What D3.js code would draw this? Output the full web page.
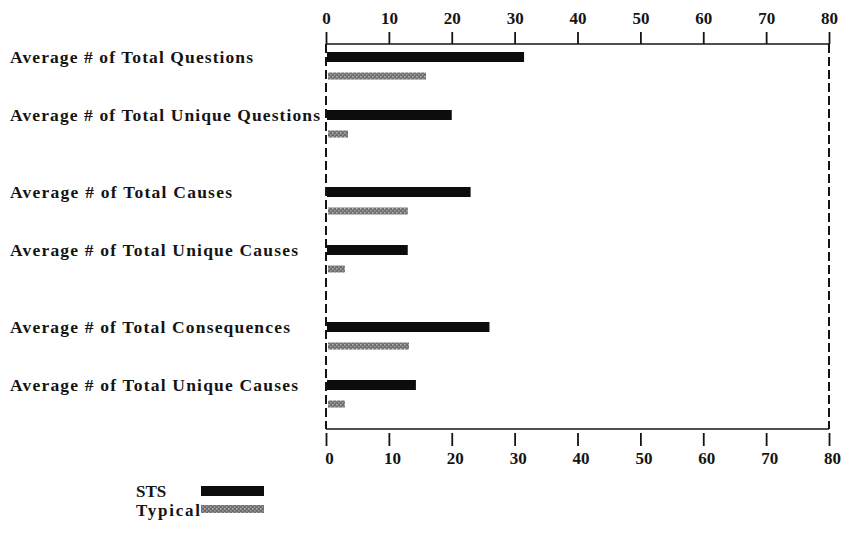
<!DOCTYPE html>
<html>
<head>
<meta charset="utf-8">
<script src="https://cdn.jsdelivr.net/npm/d3@7"></script>
<style>
html,body{margin:0;padding:0;background:#fff;}
svg{display:block;}
text{font-family:"Liberation Serif","Times New Roman",serif;font-weight:bold;fill:#141414;}
</style>
</head>
<body>
<svg id="chart" width="850" height="546"></svg>
<script>
const categories = [
  "Average # of Total Questions",
  "Average # of Total Unique Questions",
  "Average # of Total Causes",
  "Average # of Total Unique Causes",
  "Average # of Total Consequences",
  "Average # of Total Unique Causes"
];
const pairIndex = [0, 0, 1, 1, 2, 2];
const stsValues = [31.5, 20, 23, 13, 26, 14.3];
const typicalValues = [15.9, 3.5, 13, 3, 13.2, 3];
const seriesNames = ["STS", "Typical"];
const tickValues = [0, 10, 20, 30, 40, 50, 60, 70, 80];
const labelWidths = [243, 310, 222, 288, 280, 288];

const svg = d3.select("#chart");
const defs = svg.append("defs");
const pat = defs.append("pattern").attr("id", "hatch").attr("patternUnits", "userSpaceOnUse")
  .attr("width", 4).attr("height", 4);
pat.append("rect").attr("width", 4).attr("height", 4).attr("fill", "#6e6e6e");
pat.append("rect").attr("x", 0).attr("y", 0).attr("width", 1.5).attr("height", 1.5).attr("fill", "#b8b8b8");
pat.append("rect").attr("x", 2).attr("y", 2).attr("width", 1.5).attr("height", 1.5).attr("fill", "#a0a0a0");

const x = d3.scaleLinear().domain([0, 80]).range([326, 829]);
const yPair = d3.scalePoint().domain([0, 1, 2]).range([57, 327]);
const yInner = d3.scalePoint().domain([0, 1]).range([0, 58]);
const ySeries = d3.scalePoint().domain(seriesNames).range([0, 19]);
const yCat = i => yPair(pairIndex[i]) + yInner(i % 2);

const axisTop = 44, axisBottom = 429;
const ink = "#141414";

// top axis
const gTop = svg.append("g").attr("transform", `translate(0,${axisTop})`)
  .call(d3.axisTop(x).tickValues(tickValues).tickSize(12).tickPadding(8).tickFormat(d3.format("d")));
gTop.select(".domain").attr("stroke", ink).attr("stroke-width", 1.6).attr("d", `M${x(0)},0H${x(80)}`);
gTop.selectAll(".tick line").attr("stroke", ink).attr("stroke-width", 1.8);
gTop.selectAll(".tick text").attr("font-size", 17).attr("font-family", "Liberation Serif").attr("font-weight", "bold").attr("fill", ink);

// bottom axis line
svg.append("line").attr("x1", x(0)).attr("x2", x(80)).attr("y1", axisBottom).attr("y2", axisBottom)
  .attr("stroke", ink).attr("stroke-width", 1.6);
const gBot = svg.append("g").attr("transform", `translate(0,${axisBottom + 4})`)
  .call(d3.axisBottom(x).tickValues(tickValues).tickSizeInner(13).tickSizeOuter(0).tickPadding(6).tickFormat(d3.format("d")));
gBot.select(".domain").remove();
gBot.selectAll(".tick line").attr("stroke", ink).attr("stroke-width", 1.8);
gBot.selectAll(".tick text").attr("font-size", 17).attr("font-family", "Liberation Serif").attr("font-weight", "bold").attr("fill", ink).attr("dx", 3);

// vertical dashed frame lines
[0, 80].forEach(v => {
  svg.append("line").attr("x1", x(v)).attr("x2", x(v)).attr("y1", axisTop).attr("y2", axisBottom)
    .attr("stroke", ink).attr("stroke-width", 2).attr("stroke-dasharray", "9,4");
});

// bars
const bars = svg.append("g");
categories.forEach((c, i) => {
  const yc = yCat(i);
  bars.append("rect").attr("x", x(0) + 1).attr("y", yc + ySeries("STS") - 5)
    .attr("width", x(stsValues[i]) - x(0) - 1).attr("height", 10).attr("fill", "#0d0d0d");
  bars.append("rect").attr("x", x(0) + 2).attr("y", yc + ySeries("Typical") - 3.5)
    .attr("width", x(typicalValues[i]) - x(0) - 2).attr("height", 7).attr("fill", "url(#hatch)");
  svg.append("text").attr("x", 10).attr("y", yc + 6).attr("font-size", 17.5)
    .attr("textLength", labelWidths[i]).attr("lengthAdjust", "spacing").text(c);
});

// legend
const leg = svg.append("g");
leg.append("text").attr("x", 136).attr("y", 497).attr("font-size", 17).text(seriesNames[0]);
leg.append("rect").attr("x", 201).attr("y", 486).attr("width", 63).attr("height", 10).attr("fill", "#0d0d0d");
leg.append("text").attr("x", 136).attr("y", 516).attr("font-size", 17).attr("textLength", 64).attr("lengthAdjust", "spacing").text(seriesNames[1]);
leg.append("rect").attr("x", 201).attr("y", 505).attr("width", 63).attr("height", 8).attr("fill", "url(#hatch)");
</script>
</body>
</html>
